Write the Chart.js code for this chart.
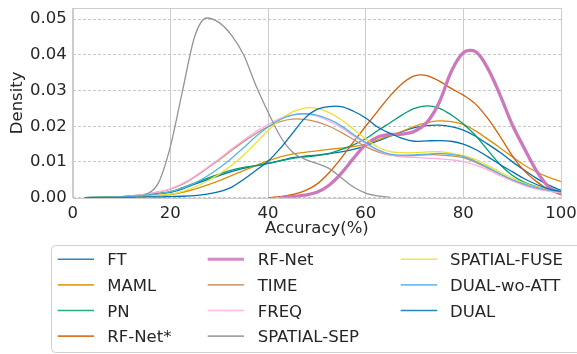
<!DOCTYPE html>
<html>
<head>
<meta charset="utf-8">
<script src="https://cdn.jsdelivr.net/npm/chart.js@4.4.1/dist/chart.umd.min.js"></script>
<style>
html,body{margin:0;padding:0;background:#ffffff;}
#wrap{width:577px;height:354px;position:relative;}
</style>
</head>
<body>
<div id="wrap"><canvas id="c" width="577" height="354"></canvas></div>
<script>
// ---- data ----
const accuracyGrid = [0,2.5,5,7.5,10,12.5,15,17.5,20,22.5,25,27.5,30,32.5,35,37.5,40,42.5,45,47.5,50,52.5,55,57.5,60,62.5,65,67.5,70,72.5,75,77.5,80,82.5,85,87.5,90,92.5,95,97.5,100];
const seriesNames = ['FT','MAML','PN','RF-Net*','RF-Net','TIME','FREQ','SPATIAL-SEP','SPATIAL-FUSE','DUAL-wo-ATT','DUAL'];
const xTicks = [0,20,40,60,80,100];
const yTicks = [0,0.01,0.02,0.03,0.04,0.05];

const ftDensity = [null,0.0000,0.0001,0.0002,0.0003,0.0005,0.0008,0.0011,0.0015,0.0025,0.0038,0.0050,0.0062,0.0073,0.0082,0.0089,0.0096,0.0104,0.0112,0.0116,0.0119,0.0123,0.0128,0.0135,0.0145,0.0159,0.0172,0.0185,0.0196,0.0202,0.0203,0.0199,0.0189,0.0172,0.0150,0.0127,0.0101,0.0077,0.0054,0.0035,0.0021];
const mamlDensity = [null,0.0000,0.0001,0.0001,0.0002,0.0003,0.0004,0.0006,0.0009,0.0015,0.0024,0.0035,0.0048,0.0062,0.0076,0.0090,0.0103,0.0114,0.0122,0.0127,0.0131,0.0135,0.0139,0.0143,0.0150,0.0162,0.0174,0.0186,0.0200,0.0210,0.0215,0.0213,0.0205,0.0187,0.0164,0.0140,0.0115,0.0091,0.0072,0.0057,0.0045];
const pnDensity = [null,0.0000,0.0001,0.0002,0.0003,0.0005,0.0008,0.0012,0.0017,0.0028,0.0041,0.0054,0.0066,0.0077,0.0085,0.0090,0.0096,0.0103,0.0110,0.0114,0.0118,0.0124,0.0135,0.0148,0.0165,0.0188,0.0210,0.0232,0.0250,0.0257,0.0251,0.0232,0.0206,0.0174,0.0133,0.0093,0.0063,0.0043,0.0031,0.0022,0.0014];
const rfNetStarDensity = [null,null,null,null,null,null,null,null,null,null,null,null,null,null,null,null,0.0000,0.0003,0.0009,0.0019,0.0038,0.0070,0.0111,0.0156,0.0200,0.0243,0.0285,0.0320,0.0341,0.0342,0.0327,0.0306,0.0287,0.0262,0.0222,0.0172,0.0118,0.0075,0.0045,0.0022,0.0008];
const rfNetDensity = [null,null,null,null,null,null,null,null,null,null,null,null,null,null,null,null,null,0.0000,0.0003,0.0007,0.0015,0.0035,0.0068,0.0110,0.0148,0.0170,0.0177,0.0178,0.0186,0.0210,0.0265,0.0352,0.0406,0.0409,0.0362,0.0288,0.0205,0.0138,0.0075,0.0030,0.0013];
const timeDensity = [null,null,0.0000,0.0001,0.0003,0.0006,0.0010,0.0016,0.0024,0.0038,0.0058,0.0082,0.0106,0.0132,0.0157,0.0179,0.0199,0.0213,0.0220,0.0219,0.0212,0.0200,0.0183,0.0163,0.0143,0.0128,0.0119,0.0117,0.0118,0.0120,0.0120,0.0117,0.0112,0.0099,0.0083,0.0066,0.0050,0.0036,0.0026,0.0019,0.0014];
const freqDensity = [null,null,null,0.0000,0.0002,0.0005,0.0010,0.0016,0.0025,0.0040,0.0060,0.0084,0.0109,0.0136,0.0161,0.0185,0.0205,0.0222,0.0232,0.0235,0.0228,0.0214,0.0196,0.0173,0.0151,0.0132,0.0120,0.0114,0.0113,0.0111,0.0109,0.0106,0.0101,0.0091,0.0078,0.0062,0.0047,0.0034,0.0024,0.0018,0.0014];
const spatialSepDensity = [null,0.0000,0.0000,0.0000,0.0001,0.0003,0.0009,0.0040,0.0143,0.0300,0.0452,0.0503,0.0490,0.0455,0.0400,0.0315,0.0240,0.0172,0.0128,0.0108,0.0096,0.0082,0.0056,0.0030,0.0013,0.0005,0.0001,null,null,null,null,null,null,null,null,null,null,null,null,null,null];
const spatialFuseDensity = [null,null,0.0000,0.0001,0.0002,0.0003,0.0005,0.0007,0.0010,0.0018,0.0030,0.0046,0.0066,0.0090,0.0119,0.0153,0.0188,0.0218,0.0240,0.0251,0.0250,0.0238,0.0218,0.0192,0.0165,0.0142,0.0129,0.0126,0.0126,0.0128,0.0129,0.0125,0.0118,0.0107,0.0090,0.0072,0.0056,0.0041,0.0030,0.0022,0.0017];
const dualWoAttDensity = [null,null,0.0000,0.0001,0.0002,0.0004,0.0007,0.0011,0.0017,0.0027,0.0041,0.0060,0.0083,0.0110,0.0140,0.0171,0.0198,0.0219,0.0231,0.0235,0.0231,0.0219,0.0201,0.0177,0.0154,0.0134,0.0122,0.0119,0.0120,0.0122,0.0124,0.0121,0.0116,0.0102,0.0085,0.0067,0.0051,0.0038,0.0028,0.0021,0.0016];
const dualDensity = [null,0.0000,0.0000,0.0000,0.0001,0.0001,0.0002,0.0002,0.0003,0.0004,0.0006,0.0010,0.0017,0.0029,0.0051,0.0076,0.0102,0.0138,0.0180,0.0222,0.0247,0.0255,0.0255,0.0242,0.0223,0.0197,0.0180,0.0166,0.0158,0.0159,0.0160,0.0158,0.0150,0.0135,0.0115,0.0093,0.0073,0.0053,0.0037,0.0025,0.0017];

const seriesValues = [ftDensity, mamlDensity, pnDensity, rfNetStarDensity, rfNetDensity, timeDensity, freqDensity, spatialSepDensity, spatialFuseDensity, dualWoAttDensity, dualDensity];
const seriesColors = ['#0173B2','#DE8F05','#029E73','#D55E00','#CC78BC','#CA9161','#FBAFE4','#949494','#ECE133','#56B4E9','#0173B2'];
const seriesWidths = [1.3,1.3,1.3,1.3,3.3,1.3,1.3,1.3,1.3,1.3,1.3];

// ---- chart ----
const FONT = 'DejaVu Sans';
const TEXT = '#262626';
const FS = 16.5;

const datasets = seriesNames.map((name, i) => ({
  label: name,
  data: seriesValues[i],
  borderColor: seriesColors[i],
  backgroundColor: seriesColors[i],
  borderWidth: seriesWidths[i],
  pointRadius: 0,
  pointHoverRadius: 0,
  fill: false,
  tension: 0.35,
  cubicInterpolationMode: name === 'SPATIAL-SEP' ? 'monotone' : 'default',
  spanGaps: false,
  order: seriesNames.length - i
}));

const framePlugin = {
  id: 'frame',
  afterDatasetsDraw(chart) {
    const {ctx, chartArea: a} = chart;
    ctx.save();
    ctx.strokeStyle = '#cccccc';
    ctx.lineWidth = 1;
    ctx.strokeRect(Math.round(a.left) + 0.5, Math.round(a.top) + 0.5, Math.round(a.right - a.left), Math.round(a.bottom - a.top));
    ctx.restore();
  }
};

const legendPlugin = {
  id: 'gridLegend',
  afterDraw(chart) {
    const ctx = chart.ctx;
    ctx.save();
    const bx = 51.5, by = 245.5, bw = 560, bh = 107, r = 4;
    ctx.beginPath();
    ctx.moveTo(bx + r, by);
    ctx.lineTo(bx + bw - r, by);
    ctx.arcTo(bx + bw, by, bx + bw, by + r, r);
    ctx.lineTo(bx + bw, by + bh - r);
    ctx.arcTo(bx + bw, by + bh, bx + bw - r, by + bh, r);
    ctx.lineTo(bx + r, by + bh);
    ctx.arcTo(bx, by + bh, bx, by + bh - r, r);
    ctx.lineTo(bx, by + r);
    ctx.arcTo(bx, by, bx + r, by, r);
    ctx.closePath();
    ctx.fillStyle = '#ffffff';
    ctx.fill();
    ctx.strokeStyle = '#d0d0d0';
    ctx.lineWidth = 1;
    ctx.stroke();

    const colLineX = [57.7, 207.7, 400.7];
    const colTextX = [107.3, 257.7, 450];
    const lineLen = 36.3;
    const row0 = 259.3, rowGap = 25.6;
    ctx.font = FS + 'px "' + FONT + '"';
    ctx.textBaseline = 'alphabetic';
    ctx.textAlign = 'left';
    chart.data.datasets.forEach((ds, i) => {
      const col = Math.floor(i / 4), row = i % 4;
      const y = row0 + row * rowGap;
      ctx.strokeStyle = ds.borderColor;
      ctx.lineWidth = ds.borderWidth > 2 ? 3 : 1.6;
      ctx.globalAlpha = 0.85;
      ctx.beginPath();
      ctx.moveTo(colLineX[col], y);
      ctx.lineTo(colLineX[col] + lineLen, y);
      ctx.stroke();
      ctx.globalAlpha = 1;
      ctx.fillStyle = TEXT;
      ctx.fillText(ds.label, colTextX[col], y + 6);
    });
    ctx.restore();
  }
};

new Chart(document.getElementById('c'), {
  type: 'line',
  data: { labels: accuracyGrid, datasets },
  options: {
    responsive: false,
    animation: false,
    devicePixelRatio: 1,
    layout: { padding: { left: 7.6, right: 16, top: 8, bottom: 115 } },
    plugins: {
      legend: { display: false },
      tooltip: { enabled: false }
    },
    scales: {
      x: {
        type: 'linear',
        min: 0,
        max: 100,
        afterBuildTicks(scale) { scale.ticks = xTicks.map(v => ({ value: v })); },
        afterFit(scale) {
          scale.height = 41.3;
          scale.paddingLeft = 0; scale.paddingRight = 0;
        },
        ticks: {
          color: TEXT,
          font: { family: FONT, size: FS },
          padding: 6,
          maxRotation: 0,
          autoSkip: false,
          callback: v => String(v)
        },
        grid: { color: '#cccccc', lineWidth: 1, drawTicks: false },
        border: { display: false },
        title: {
          display: true,
          text: 'Accuracy(%)',
          color: TEXT,
          font: { family: FONT, size: FS },
          padding: 0
        }
      },
      y: {
        type: 'linear',
        min: 0,
        max: 0.0531,
        afterBuildTicks(scale) { scale.ticks = yTicks.map(v => ({ value: v })); },
        afterFit(scale) {
          scale.width = 65.1;
          scale.paddingTop = 0; scale.paddingBottom = 0;
        },
        ticks: {
          color: TEXT,
          font: { family: FONT, size: FS },
          padding: 6,
          autoSkip: false,
          callback: v => Number(v).toFixed(2)
        },
        grid: { color: '#c8c8c8', lineWidth: 1, drawTicks: false },
        border: { display: false, dash: [3, 2] },
        title: {
          display: true,
          text: 'Density',
          color: TEXT,
          font: { family: FONT, size: FS },
          padding: 0
        }
      }
    }
  },
  plugins: [framePlugin, legendPlugin]
});
</script>
</body>
</html>
